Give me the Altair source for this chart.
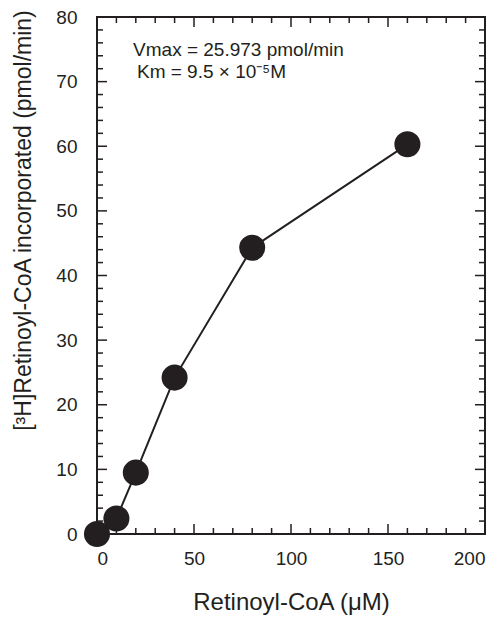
import altair as alt
import pandas as pd

# ---- data ----
conc_uM = [0, 10, 20, 40, 80, 160]
incorporated = [0.0, 2.4, 9.5, 24.2, 44.3, 60.3]

x_tick_labels = [0, 50, 100, 150, 200]
x_minor_ticks = [10, 20, 30, 40, 60, 70, 80, 90, 110, 120, 130, 140, 160, 170, 180, 190]
y_tick_labels = [0, 10, 20, 30, 40, 50, 60, 70, 80]
y_minor_ticks = [2, 4, 6, 8, 12, 14, 16, 18, 22, 24, 26, 28, 32, 34, 36, 38, 42, 44, 46, 48,
                 52, 54, 56, 58, 62, 64, 66, 68, 72, 74, 76, 78]

annot_lines = ["Vmax = 25.973 pmol/min", "Km = 9.5 \u00d7 10\u207b\u2075M"]
annot_x = [18.6, 20.6]
annot_y = [73.9, 70.5]

# ---- layout / style ----
W, H = 388, 517
MAJ, MIN = 10, 6
INK = "#231f20"
FONT = "Liberation Sans"

df = pd.DataFrame({"x": conc_uM, "y": incorporated})
xs = alt.Scale(domain=[0, 200], nice=False, zero=False)
ys = alt.Scale(domain=[0, 80], nice=False, zero=False)

x_axis = alt.Axis(values=x_tick_labels, ticks=False, tickSize=0, domain=False, grid=False,
                  labelFontSize=19, labelFont=FONT, labelColor=INK, labelPadding=15,
                  title="Retinoyl-CoA (\u03bcM)", titleFont=FONT, titleFontSize=24,
                  titleFontWeight="normal", titleColor=INK, titleBaseline="alphabetic",
                  titleY=75)
y_axis = alt.Axis(values=y_tick_labels, ticks=False, tickSize=0, domain=False, grid=False,
                  labelFontSize=19, labelFont=FONT, labelColor=INK, labelPadding=20,
                  title="[\u00b3H]Retinoyl-CoA incorporated (pmol/min)", titleFont=FONT,
                  titleFontSize=23, titleFontWeight="normal", titleColor=INK,
                  titleAngle=-90, titleAlign="center", titleBaseline="middle",
                  titleX=-74, titleY=203)

def X(f):
    return alt.X(f, scale=xs, axis=x_axis)

def Y(f):
    return alt.Y(f, scale=ys, axis=y_axis)

base = alt.Chart(df)
line = base.mark_line(color=INK, strokeWidth=2).encode(x=X("x:Q"), y=Y("y:Q"))
pts = base.mark_circle(size=680, opacity=1, color=INK).encode(x=X("x:Q"), y=Y("y:Q"))

def xticks(vals, length):
    d = pd.DataFrame({"t": vals})
    bot = alt.Chart(d).mark_rule(color=INK, strokeWidth=1.5).encode(
        x=X("t:Q"), y=alt.value(H), y2=alt.value(H - length))
    top = alt.Chart(d).mark_rule(color=INK, strokeWidth=1.5).encode(
        x=X("t:Q"), y=alt.value(0), y2=alt.value(length))
    return [bot, top]

def yticks(vals, length):
    d = pd.DataFrame({"t": vals})
    left = alt.Chart(d).mark_rule(color=INK, strokeWidth=1.5).encode(
        y=Y("t:Q"), x=alt.value(0), x2=alt.value(length))
    right = alt.Chart(d).mark_rule(color=INK, strokeWidth=1.5).encode(
        y=Y("t:Q"), x=alt.value(W), x2=alt.value(W - length))
    return [left, right]

ann_df = pd.DataFrame({"x": annot_x, "y": annot_y, "txt": annot_lines})
ann = alt.Chart(ann_df).mark_text(align="left", baseline="alphabetic", font=FONT,
                                  fontSize=19, color=INK).encode(
    x=X("x:Q"), y=Y("y:Q"), text="txt:N")

layers = [line] + xticks(x_tick_labels, MAJ) + xticks(x_minor_ticks, MIN) \
    + yticks(y_tick_labels, MAJ) + yticks(y_minor_ticks, MIN) + [pts, ann]

chart = alt.layer(*layers).properties(
    width=W, height=H, autosize="none",
    padding={"left": 97, "top": 17, "right": 18, "bottom": 84},
    background="white",
).configure_view(stroke=INK, strokeWidth=2)

chart.save("out.html", embed_options={"renderer": "svg", "actions": False})
